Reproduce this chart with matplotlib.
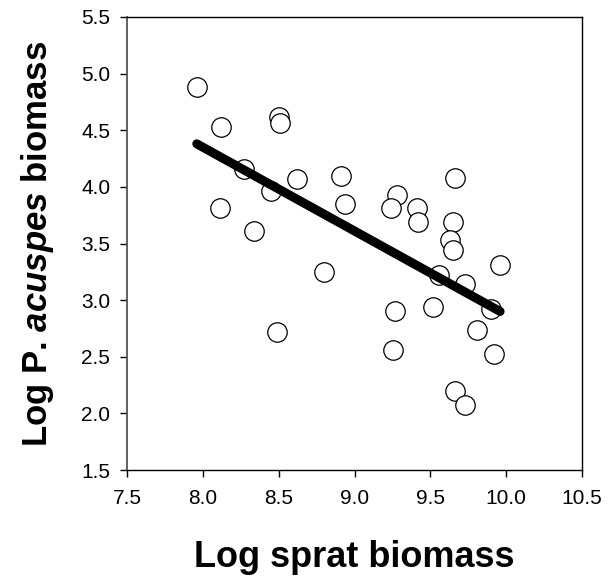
import matplotlib
matplotlib.use("Agg")
import matplotlib.pyplot as plt

plt.rcParams['font.family'] = ['Liberation Sans', 'DejaVu Sans']
plt.rcParams['mathtext.fontset'] = 'custom'
plt.rcParams['mathtext.rm'] = 'Liberation Sans'
plt.rcParams['mathtext.bf'] = 'Liberation Sans:bold'
plt.rcParams['mathtext.it'] = 'Liberation Sans:italic'
plt.rcParams['mathtext.bfit'] = 'Liberation Sans:italic:bold'

sprat = [7.96, 8.12, 8.50, 8.51, 8.27, 8.62, 8.45, 8.11, 8.34, 8.49,
         8.80, 8.91, 8.94, 9.28, 9.24, 9.41, 9.42, 9.66, 9.65, 9.63,
         9.65, 9.56, 9.73, 9.96, 9.515, 9.27, 9.90, 9.81, 9.255, 9.92,
         9.66, 9.73]
acuspes = [4.88, 4.53, 4.62, 4.56, 4.16, 4.07, 3.96, 3.81, 3.61, 2.72,
           3.245, 4.10, 3.845, 3.93, 3.81, 3.815, 3.69, 4.08, 3.69, 3.53,
           3.44, 3.22, 3.14, 3.31, 2.94, 2.90, 2.92, 2.74, 2.56, 2.52,
           2.20, 2.07]
fit_x = [7.96, 9.96]
fit_y = [4.38, 2.90]
xticks = [7.5, 8.0, 8.5, 9.0, 9.5, 10.0, 10.5]
yticks = [1.5, 2.0, 2.5, 3.0, 3.5, 4.0, 4.5, 5.0, 5.5]

fig = plt.figure(figsize=(6.11, 5.77), dpi=100)
ax = fig.add_axes([127/611, 107/577, 455/611, 453/577])

ax.scatter(sprat, acuspes, s=14**2, facecolors='white', edgecolors='black',
           linewidths=0.9, zorder=2)
ax.plot(fit_x, fit_y, color='black', lw=6.5, solid_capstyle='round', zorder=3)

ax.set_xlim(7.5, 10.5)
ax.set_ylim(1.5, 5.5)
ax.set_xticks(xticks)
ax.set_yticks(yticks)
ax.set_xticklabels([f"{v:.1f}" for v in xticks])
ax.set_yticklabels([f"{v:.1f}" for v in yticks])
ax.tick_params(axis='both', direction='out', length=5, width=1, labelsize=15)
ax.tick_params(axis='x', pad=9)
ax.tick_params(axis='y', pad=7)
for s in ['top', 'right', 'bottom']:
    ax.spines[s].set_color('black')
    ax.spines[s].set_linewidth(1)
ax.spines['left'].set_color('#555555')
ax.spines['left'].set_linewidth(1.3)

ax.set_xlabel('Log sprat biomass', fontsize=26, fontweight='bold', labelpad=23)
ax.set_ylabel(r'Log P. $\mathbfit{acuspes}$ biomass', fontsize=25,
              fontweight='bold', labelpad=18)

fig.savefig('out.png', dpi=100)
